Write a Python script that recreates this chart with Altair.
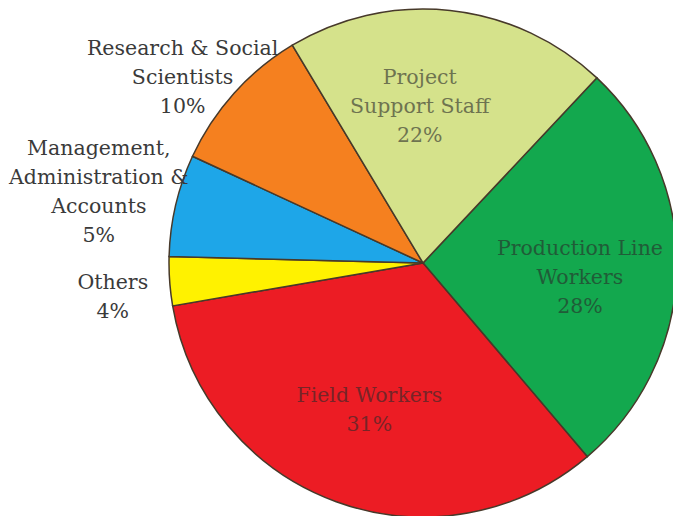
import altair as alt
import pandas as pd

# Slices in drawing order (clockwise from the green slice)
categories = [
    "Production Line Workers",
    "Field Workers",
    "Others",
    "Management, Administration & Accounts",
    "Research & Social Scientists",
    "Project Support Staff",
]
label_lines = [
    "Production Line\nWorkers",
    "Field Workers",
    "Others",
    "Management,\nAdministration &\nAccounts",
    "Research & Social\nScientists",
    "Project\nSupport Staff",
]
pct_labels = ["28%", "31%", "4%", "5%", "10%", "22%"]
shares = [26.8, 33.5, 3.1, 6.5, 9.5, 20.6]
colors = ["#13a84e", "#ec1c24", "#fff200", "#1ea6e8", "#f5801f", "#d5e28b"]

df = pd.DataFrame({
    "category": categories,
    "lines": label_lines,
    "pct": pct_labels,
    "share": shares,
    "idx": list(range(len(categories))),
})

PI = 3.141592653589793
start = 43.2 * PI / 180
theta_scale = alt.Scale(range=[start, start + 2 * PI])

CX, CY, R = 415, 255, 254
LH = 29

base = alt.Chart(df).transform_calculate(
    label="datum.lines + '\\n' + datum.pct",
)

theta = alt.Theta("share:Q", stack=True, scale=theta_scale)
order = alt.Order("idx:Q")

arc = base.mark_arc(stroke="#47392a", strokeWidth=1.5).encode(
    theta=theta,
    order=order,
    color=alt.Color("category:N", scale=alt.Scale(domain=categories, range=colors), legend=None),
    x=alt.value(CX), y=alt.value(CY), radius=alt.value(R),
)


def label_layer(i, radius, dx, dy, color, opacity):
    cat = categories[i]
    n_lines = label_lines[i].count("\n") + 2
    # centre the multi-line block on its anchor
    dy = dy - (n_lines - 1) * LH / 2
    return base.transform_calculate(
        t=f"datum.category == '{cat}' ? datum.label : ''"
    ).mark_text(
        font="DejaVu Serif", fontSize=20.5, lineBreak="\n", lineHeight=LH,
        align="center", baseline="middle", dx=dx, dy=dy,
        color=color, opacity=opacity,
    ).encode(
        theta=theta, order=order, text="t:N",
        x=alt.value(CX), y=alt.value(CY), radius=alt.value(radius),
    )


inner_c, inner_o = "#2a2a2a", 0.6
outer_c, outer_o = "#3a3a3a", 1.0

layers = [
    arc,
    label_layer(0, 157, 0, 11, inner_c, inner_o),
    label_layer(1, 157, 0, 0, inner_c, inner_o),
    label_layer(5, 157, -20, 0, inner_c, inner_o),
    label_layer(2, 311, 0, 12, outer_c, outer_o),
    label_layer(3, 336, 3, 6, outer_c, outer_o),
    label_layer(4, 303, -15, 18, outer_c, outer_o),
]

chart = alt.layer(*layers).properties(
    width=665, height=508, padding=0, background="white",
    autosize=alt.AutoSizeParams(type="none"),
).configure_view(strokeWidth=0)

chart.save("out.html", embed_options={"renderer": "svg", "actions": False})
